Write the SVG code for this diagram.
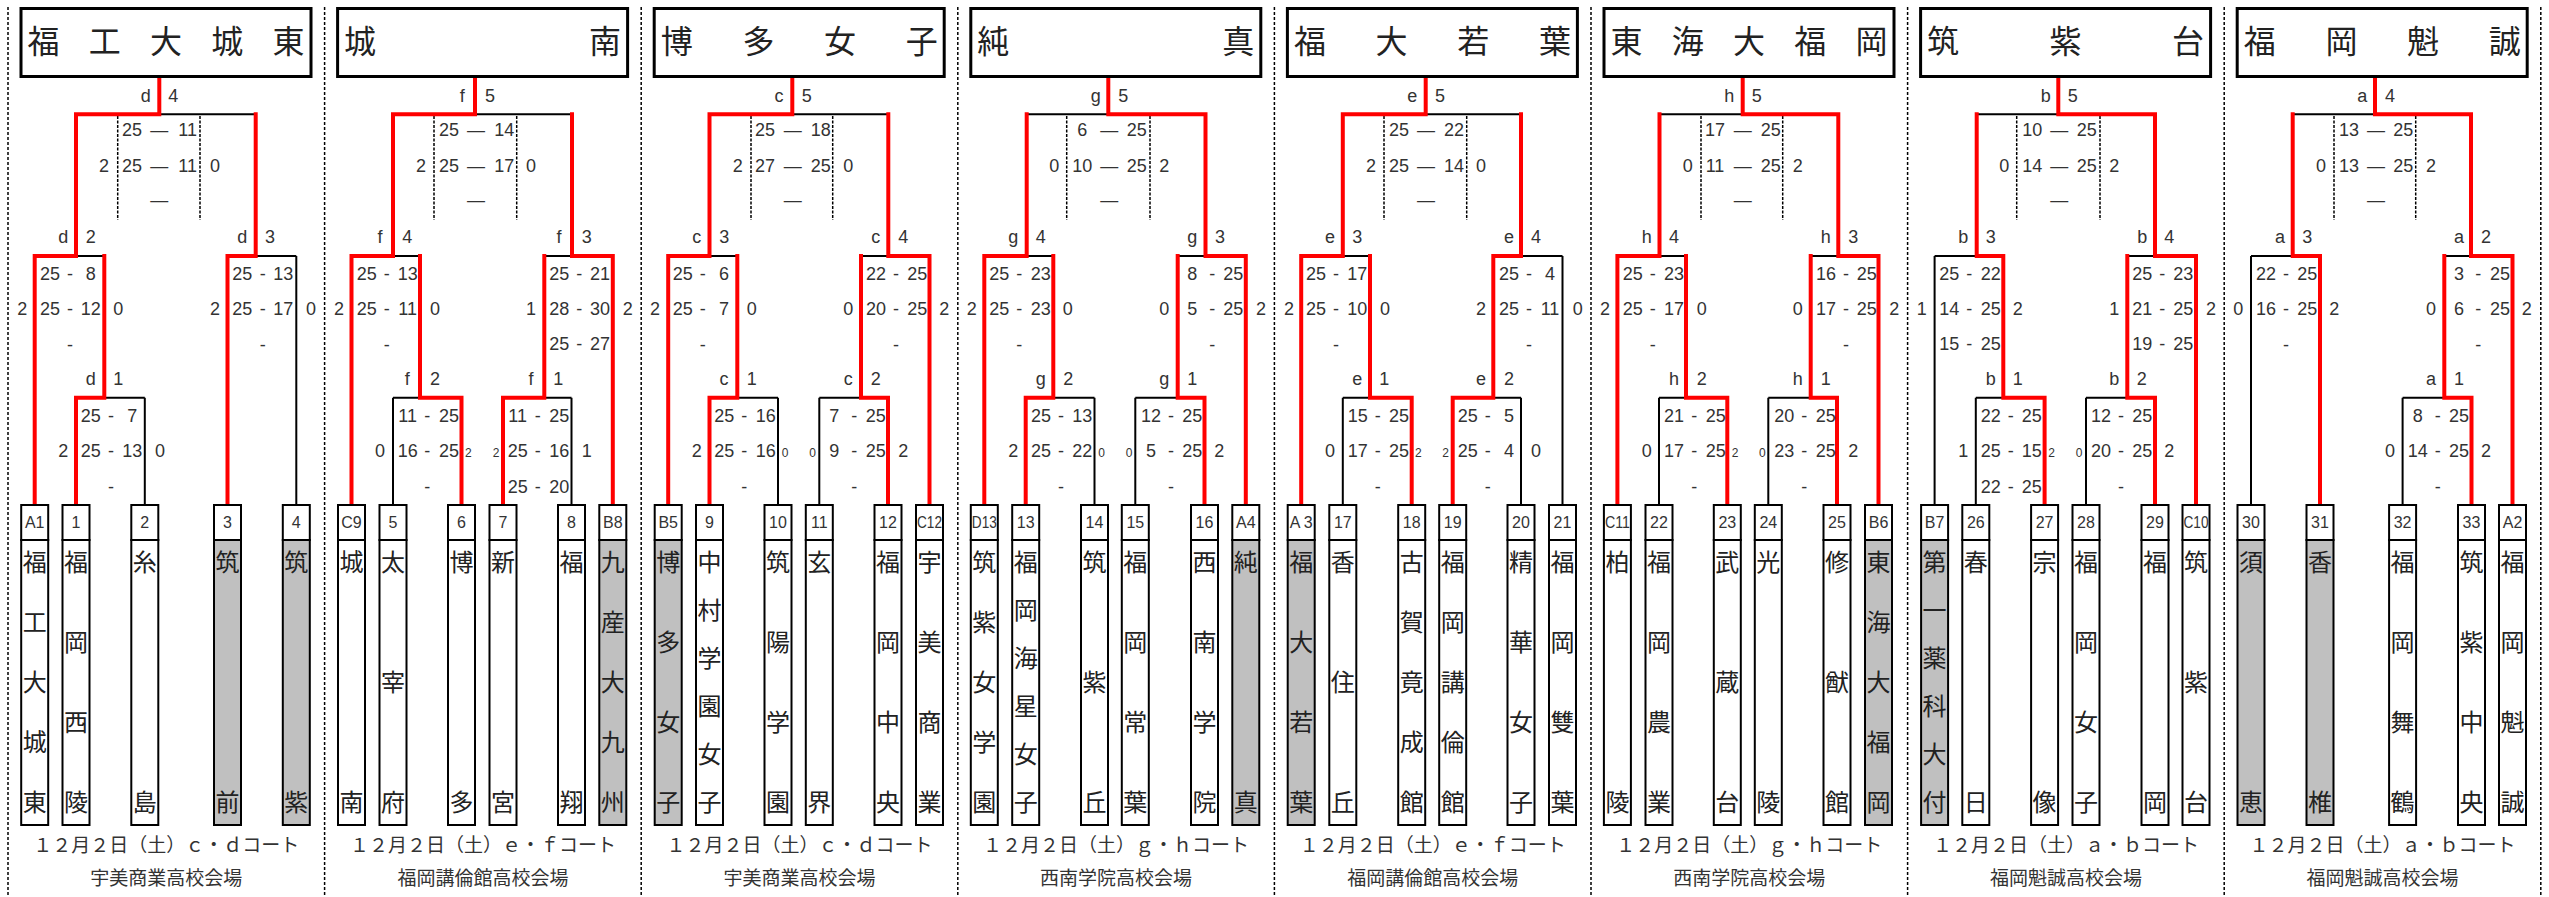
<svg xmlns="http://www.w3.org/2000/svg" width="2549" height="897" viewBox="0 0 2549 897">
<style>
.sep{stroke:#000;stroke-width:1.5;stroke-dasharray:3 2;fill:none}
.k{stroke:#000;stroke-width:2;fill:none}
.r{stroke:#f00;stroke-width:4;fill:none;stroke-linejoin:miter}
.dot{stroke:#000;stroke-width:1.5;stroke-dasharray:3 1.5;fill:none}
.tb{fill:#fff;stroke:#000;stroke-width:3}
.ti{font-family:"Noto Sans CJK JP",sans-serif;font-size:32px;fill:#222;text-anchor:middle}
.bx{fill:#fff;stroke:#000;stroke-width:2}
.gr{fill:#c0c0c0}
.no{font-family:"Liberation Sans Narrow","Liberation Sans",sans-serif;font-size:16px;fill:#333;text-anchor:middle}
.nm{font-family:"Noto Sans CJK JP",sans-serif;font-size:24px;fill:#222;text-anchor:middle}
.s{font-family:"Liberation Sans Narrow","Liberation Sans",sans-serif;font-size:18px;fill:#333;text-anchor:middle}
.sm{font-size:12px}
.dt{font-family:"Noto Sans CJK JP",sans-serif;font-size:19px;fill:#333;text-anchor:middle}
</style>
<rect width="2549" height="897" fill="#fff"/>
<g id="separators">
<path class="sep" d="M8 7V897M324.6 7V897M641.2 7V897M957.8 7V897M1274.4 7V897M1591 7V897M1907.6 7V897M2224.2 7V897M2540.8 7V897"/>
</g>
<g id="connectors">
<path class="k" d="M76 114.3H255.7M34.7 256H104.3M227.5 256H296.3M76 397.7H144.8M144.8 397.7V505M296.3 256V505"/>
<path class="k" d="M393 114.3H572M351.5 256H420M544.3 256H612.8M393 397.7H461.5M503 397.7H571.5M393 397.7V505M571.5 397.7V505"/>
<path class="k" d="M709.5 114.3H888.3M668.2 256H737.3M861 256H929.5M709.5 397.7H778M819.3 397.7H888M778 397.7V505M819.3 397.7V505"/>
<path class="k" d="M1026.7 114.3H1205.7M984.3 256H1053.3M1177.7 256H1245.8M1025.7 397.7H1094.5M1135.3 397.7H1204.5M1094.5 397.7V505M1135.3 397.7V505"/>
<path class="k" d="M1342.8 114.3H1521M1301.2 256H1370M1493.3 256H1562.5M1342.8 397.7H1411.7M1452.7 397.7H1521M1342.8 397.7V505M1521 397.7V505M1562.5 256V505"/>
<path class="k" d="M1659.5 114.3H1838.3M1617.4 256H1686M1810.7 256H1878.5M1659 397.7H1727.3M1768.3 397.7H1837M1659 397.7V505M1768.3 397.7V505"/>
<path class="k" d="M1976.7 114.3H2155M1934.6 256H2003.3M2127.3 256H2196M1975.8 397.7H2044.6M2086 397.7H2155M1934.6 256V505M1975.8 397.7V505M2086 397.7V505"/>
<path class="k" d="M2292.7 114.3H2471M2251 256H2320M2444.3 256H2512.5M2402.6 397.7H2471.5M2251 256V505M2402.6 397.7V505"/>
<path class="dot" d="M117.7 116V220M200 116V220M434 116V220M516.7 116V220M751 116V220M832.7 116V220M1066.7 116V220M1150 116V220M1384 116V220M1466.7 116V220M1701 116V220M1782.7 116V220M2016.7 116V220M2100 116V220M2334 116V220M2415.7 116V220"/>
<path class="r" d="M159.3 78V114.3H76V256H34.7V505M76 505V397.7H104.3V254M227.5 505V256H255.7V112.3"/>
<path class="r" d="M475 78V114.3H393V256H351.5V505M461.5 505V397.7H420V254M503 505V397.7H544.3V254M612.8 505V256H572V112.3"/>
<path class="r" d="M792.3 78V114.3H709.5V256H668.2V505M709.5 505V397.7H737.3V254M888 505V397.7H861V254M929.5 505V256H888.3V112.3"/>
<path class="r" d="M984.3 505V256H1026.7V112.3M1108.3 78V114.3H1205.5V256H1245.8V505M1025.7 505V397.7H1053.3V254M1204.5 505V397.7H1177.7V254"/>
<path class="r" d="M1425.7 78V114.3H1342.8V256H1301.2V505M1411.7 505V397.7H1370V254M1452.7 505V397.7H1493.3V256H1521V112.3"/>
<path class="r" d="M1617.4 505V256H1659.5V112.3M1742.7 78V114.3H1838.3V256H1878.5V505M1727.3 505V397.7H1686V254M1837 505V397.7H1810.7V254"/>
<path class="r" d="M2044.6 505V397.7H2003.3V256H1976.7V112.3M2058.3 78V114.3H2155V256H2196V505M2155 505V397.7H2127.3V254"/>
<path class="r" d="M2320 505V256H2292.7V112.3M2375 78V114.3H2471V256H2512.5V505M2471.5 505V397.7H2444.3V254"/>
</g>
<g id="titles">
<g id="title-1"><rect class="tb" x="21" y="8.5" width="290" height="68"/><text class="ti" x="43.5 104.75 166 227.25 288.5" y="53">福工大城東</text></g>
<g id="title-2"><rect class="tb" x="337.6" y="8.5" width="290" height="68"/><text class="ti" x="360.1 605.1" y="53">城南</text></g>
<g id="title-3"><rect class="tb" x="654.2" y="8.5" width="290" height="68"/><text class="ti" x="676.7 758.4 840 921.7" y="53">博多女子</text></g>
<g id="title-4"><rect class="tb" x="970.8" y="8.5" width="290" height="68"/><text class="ti" x="993.3 1238.3" y="53">純真</text></g>
<g id="title-5"><rect class="tb" x="1287.4" y="8.5" width="290" height="68"/><text class="ti" x="1309.9 1391.6 1473.2 1554.9" y="53">福大若葉</text></g>
<g id="title-6"><rect class="tb" x="1604" y="8.5" width="290" height="68"/><text class="ti" x="1626.5 1687.75 1749 1810.25 1871.5" y="53">東海大福岡</text></g>
<g id="title-7"><rect class="tb" x="1920.6" y="8.5" width="290" height="68"/><text class="ti" x="1943.1 2065.6 2188.1" y="53">筑紫台</text></g>
<g id="title-8"><rect class="tb" x="2237.2" y="8.5" width="290" height="68"/><text class="ti" x="2259.7 2341.4 2423 2504.7" y="53">福岡魁誠</text></g>
</g>
<g id="matches">
<g id="m-d4"><text class="s" y="101.7"><tspan x="145.7">d</tspan><tspan x="173.3">4</tspan></text><text class="s" y="136"><tspan x="132">25</tspan><tspan x="159.3">—</tspan><tspan x="187.7">11</tspan></text><text class="s" y="172"><tspan x="104">2</tspan><tspan x="132">25</tspan><tspan x="159.3">—</tspan><tspan x="187.7">11</tspan><tspan x="215">0</tspan></text><text class="s" x="159.3" y="205.5">—</text></g>
<g id="m-d2"><text class="s" y="243.3"><tspan x="63.3">d</tspan><tspan x="90.7">2</tspan></text><text class="s" y="280"><tspan x="50">25</tspan><tspan x="70">-</tspan><tspan x="90.7">8</tspan></text><text class="s" y="315"><tspan x="22.3">2</tspan><tspan x="50">25</tspan><tspan x="70">-</tspan><tspan x="90.7">12</tspan><tspan x="118.3">0</tspan></text><text class="s" x="70" y="350.5">-</text></g>
<g id="m-d3"><text class="s" y="243.3"><tspan x="242.3">d</tspan><tspan x="270">3</tspan></text><text class="s" y="280"><tspan x="242.3">25</tspan><tspan x="262.7">-</tspan><tspan x="283.3">13</tspan></text><text class="s" y="315"><tspan x="215">2</tspan><tspan x="242.3">25</tspan><tspan x="262.7">-</tspan><tspan x="283.3">17</tspan><tspan x="311">0</tspan></text><text class="s" x="262.7" y="350.5">-</text></g>
<g id="m-d1"><text class="s" y="385"><tspan x="90.7">d</tspan><tspan x="118.3">1</tspan></text><text class="s" y="421.7"><tspan x="90.7">25</tspan><tspan x="111">-</tspan><tspan x="132.3">7</tspan></text><text class="s" y="456.7"><tspan x="63.3">2</tspan><tspan x="90.7">25</tspan><tspan x="111">-</tspan><tspan x="132.3">13</tspan><tspan x="160">0</tspan></text><text class="s" x="111" y="492.5">-</text></g>

<g id="m-f5"><text class="s" y="101.7"><tspan x="462.3">f</tspan><tspan x="490">5</tspan></text><text class="s" y="136"><tspan x="449">25</tspan><tspan x="476">—</tspan><tspan x="504.3">14</tspan></text><text class="s" y="172"><tspan x="421">2</tspan><tspan x="449">25</tspan><tspan x="476">—</tspan><tspan x="504.3">17</tspan><tspan x="531">0</tspan></text><text class="s" x="476" y="205.5">—</text></g>
<g id="m-f4"><text class="s" y="243.3"><tspan x="380">f</tspan><tspan x="407.3">4</tspan></text><text class="s" y="280"><tspan x="366.7">25</tspan><tspan x="386.7">-</tspan><tspan x="407.7">13</tspan></text><text class="s" y="315"><tspan x="339">2</tspan><tspan x="366.7">25</tspan><tspan x="386.7">-</tspan><tspan x="407.7">11</tspan><tspan x="435">0</tspan></text><text class="s" x="386.7" y="350.5">-</text></g>
<g id="m-f3"><text class="s" y="243.3"><tspan x="559">f</tspan><tspan x="586.7">3</tspan></text><text class="s" y="280"><tspan x="559.3">25</tspan><tspan x="579.3">-</tspan><tspan x="600">21</tspan></text><text class="s" y="315"><tspan x="531">1</tspan><tspan x="559.3">28</tspan><tspan x="579.3">-</tspan><tspan x="600">30</tspan><tspan x="627.7">2</tspan></text><text class="s" y="350"><tspan x="559.3">25</tspan><tspan x="579.3">-</tspan><tspan x="600">27</tspan></text></g>
<g id="m-f2"><text class="s" y="385"><tspan x="407.3">f</tspan><tspan x="435">2</tspan></text><text class="s" y="421.7"><tspan x="407.7">11</tspan><tspan x="427.3">-</tspan><tspan x="449">25</tspan></text><text class="s" y="456.7"><tspan x="380">0</tspan><tspan x="407.7">16</tspan><tspan x="427.3">-</tspan><tspan x="449">25</tspan><tspan class="sm" x="468.3">2</tspan></text><text class="s" x="427.3" y="492.5">-</text></g>
<g id="m-f1"><text class="s" y="385"><tspan x="531">f</tspan><tspan x="558.3">1</tspan></text><text class="s" y="421.7"><tspan x="517.7">11</tspan><tspan x="537.7">-</tspan><tspan x="559.3">25</tspan></text><text class="s" y="456.7"><tspan class="sm" x="496">2</tspan><tspan x="517.7">25</tspan><tspan x="537.7">-</tspan><tspan x="559.3">16</tspan><tspan x="586.7">1</tspan></text><text class="s" y="492.5"><tspan x="517.7">25</tspan><tspan x="537.7">-</tspan><tspan x="559.3">20</tspan></text></g>

<g id="m-c5"><text class="s" y="101.7"><tspan x="779">c</tspan><tspan x="806.7">5</tspan></text><text class="s" y="136"><tspan x="765">25</tspan><tspan x="792.7">—</tspan><tspan x="820.7">18</tspan></text><text class="s" y="172"><tspan x="737.7">2</tspan><tspan x="765">27</tspan><tspan x="792.7">—</tspan><tspan x="820.7">25</tspan><tspan x="848.3">0</tspan></text><text class="s" x="792.7" y="205.5">—</text></g>
<g id="m-c3"><text class="s" y="243.3"><tspan x="696.7">c</tspan><tspan x="724.3">3</tspan></text><text class="s" y="280"><tspan x="682.7">25</tspan><tspan x="702.7">-</tspan><tspan x="724">6</tspan></text><text class="s" y="315"><tspan x="655">2</tspan><tspan x="682.7">25</tspan><tspan x="702.7">-</tspan><tspan x="724">7</tspan><tspan x="751.7">0</tspan></text><text class="s" x="702.7" y="350.5">-</text></g>
<g id="m-c4"><text class="s" y="243.3"><tspan x="875.7">c</tspan><tspan x="903.3">4</tspan></text><text class="s" y="280"><tspan x="876">22</tspan><tspan x="896">-</tspan><tspan x="917.3">25</tspan></text><text class="s" y="315"><tspan x="848.3">0</tspan><tspan x="876">20</tspan><tspan x="896">-</tspan><tspan x="917.3">25</tspan><tspan x="944.3">2</tspan></text><text class="s" x="896" y="350.5">-</text></g>
<g id="m-c1"><text class="s" y="385"><tspan x="724">c</tspan><tspan x="751.7">1</tspan></text><text class="s" y="421.7"><tspan x="724.3">25</tspan><tspan x="744.3">-</tspan><tspan x="765.7">16</tspan></text><text class="s" y="456.7"><tspan x="696.7">2</tspan><tspan x="724.3">25</tspan><tspan x="744.3">-</tspan><tspan x="765.7">16</tspan><tspan class="sm" x="785">0</tspan></text><text class="s" x="744.3" y="492.5">-</text></g>
<g id="m-c2"><text class="s" y="385"><tspan x="848.3">c</tspan><tspan x="875.7">2</tspan></text><text class="s" y="421.7"><tspan x="834.3">7</tspan><tspan x="854.3">-</tspan><tspan x="875.7">25</tspan></text><text class="s" y="456.7"><tspan class="sm" x="812.7">0</tspan><tspan x="834.3">9</tspan><tspan x="854.3">-</tspan><tspan x="875.7">25</tspan><tspan x="903.3">2</tspan></text><text class="s" x="854.3" y="492.5">-</text></g>

<g id="m-g5"><text class="s" y="101.7"><tspan x="1095.7">g</tspan><tspan x="1123.3">5</tspan></text><text class="s" y="136"><tspan x="1082.3">6</tspan><tspan x="1109.3">—</tspan><tspan x="1136.7">25</tspan></text><text class="s" y="172"><tspan x="1054.3">0</tspan><tspan x="1082.3">10</tspan><tspan x="1109.3">—</tspan><tspan x="1136.7">25</tspan><tspan x="1164.3">2</tspan></text><text class="s" x="1109.3" y="205.5">—</text></g>
<g id="m-g4"><text class="s" y="243.3"><tspan x="1013.3">g</tspan><tspan x="1040.7">4</tspan></text><text class="s" y="280"><tspan x="999.3">25</tspan><tspan x="1019.3">-</tspan><tspan x="1040.7">23</tspan></text><text class="s" y="315"><tspan x="971.7">2</tspan><tspan x="999.3">25</tspan><tspan x="1019.3">-</tspan><tspan x="1040.7">23</tspan><tspan x="1067.7">0</tspan></text><text class="s" x="1019.3" y="350.5">-</text></g>
<g id="m-g3"><text class="s" y="243.3"><tspan x="1192.3">g</tspan><tspan x="1220">3</tspan></text><text class="s" y="280"><tspan x="1192.3">8</tspan><tspan x="1212.3">-</tspan><tspan x="1233.3">25</tspan></text><text class="s" y="315"><tspan x="1164.3">0</tspan><tspan x="1192.3">5</tspan><tspan x="1212.3">-</tspan><tspan x="1233.3">25</tspan><tspan x="1261">2</tspan></text><text class="s" x="1212.3" y="350.5">-</text></g>
<g id="m-g2"><text class="s" y="385"><tspan x="1040.7">g</tspan><tspan x="1068.3">2</tspan></text><text class="s" y="421.7"><tspan x="1041">25</tspan><tspan x="1061">-</tspan><tspan x="1082.3">13</tspan></text><text class="s" y="456.7"><tspan x="1013.3">2</tspan><tspan x="1041">25</tspan><tspan x="1061">-</tspan><tspan x="1082.3">22</tspan><tspan class="sm" x="1101.7">0</tspan></text><text class="s" x="1061" y="492.5">-</text></g>
<g id="m-g1"><text class="s" y="385"><tspan x="1164.3">g</tspan><tspan x="1192.3">1</tspan></text><text class="s" y="421.7"><tspan x="1151">12</tspan><tspan x="1171">-</tspan><tspan x="1192.3">25</tspan></text><text class="s" y="456.7"><tspan class="sm" x="1129">0</tspan><tspan x="1151">5</tspan><tspan x="1171">-</tspan><tspan x="1192.3">25</tspan><tspan x="1219.3">2</tspan></text><text class="s" x="1171" y="492.5">-</text></g>

<g id="m-e5"><text class="s" y="101.7"><tspan x="1412.3">e</tspan><tspan x="1440">5</tspan></text><text class="s" y="136"><tspan x="1399">25</tspan><tspan x="1426">—</tspan><tspan x="1454">22</tspan></text><text class="s" y="172"><tspan x="1371">2</tspan><tspan x="1399">25</tspan><tspan x="1426">—</tspan><tspan x="1454">14</tspan><tspan x="1481">0</tspan></text><text class="s" x="1426" y="205.5">—</text></g>
<g id="m-e3"><text class="s" y="243.3"><tspan x="1330">e</tspan><tspan x="1357.3">3</tspan></text><text class="s" y="280"><tspan x="1316">25</tspan><tspan x="1336">-</tspan><tspan x="1357.3">17</tspan></text><text class="s" y="315"><tspan x="1289">2</tspan><tspan x="1316">25</tspan><tspan x="1336">-</tspan><tspan x="1357.3">10</tspan><tspan x="1385">0</tspan></text><text class="s" x="1336" y="350.5">-</text></g>
<g id="m-e4"><text class="s" y="243.3"><tspan x="1509">e</tspan><tspan x="1536">4</tspan></text><text class="s" y="280"><tspan x="1509">25</tspan><tspan x="1529">-</tspan><tspan x="1550">4</tspan></text><text class="s" y="315"><tspan x="1481">2</tspan><tspan x="1509">25</tspan><tspan x="1529">-</tspan><tspan x="1550">11</tspan><tspan x="1577.7">0</tspan></text><text class="s" x="1529" y="350.5">-</text></g>
<g id="m-e1"><text class="s" y="385"><tspan x="1357.3">e</tspan><tspan x="1384.3">1</tspan></text><text class="s" y="421.7"><tspan x="1357.7">15</tspan><tspan x="1377.7">-</tspan><tspan x="1399">25</tspan></text><text class="s" y="456.7"><tspan x="1330">0</tspan><tspan x="1357.7">17</tspan><tspan x="1377.7">-</tspan><tspan x="1399">25</tspan><tspan class="sm" x="1418.3">2</tspan></text><text class="s" x="1377.7" y="492.5">-</text></g>
<g id="m-e2"><text class="s" y="385"><tspan x="1481">e</tspan><tspan x="1509">2</tspan></text><text class="s" y="421.7"><tspan x="1467.7">25</tspan><tspan x="1487.7">-</tspan><tspan x="1509">5</tspan></text><text class="s" y="456.7"><tspan class="sm" x="1445.7">2</tspan><tspan x="1467.7">25</tspan><tspan x="1487.7">-</tspan><tspan x="1509">4</tspan><tspan x="1536">0</tspan></text><text class="s" x="1487.7" y="492.5">-</text></g>

<g id="m-h5"><text class="s" y="101.7"><tspan x="1729.3">h</tspan><tspan x="1756.7">5</tspan></text><text class="s" y="136"><tspan x="1715">17</tspan><tspan x="1742.7">—</tspan><tspan x="1770.7">25</tspan></text><text class="s" y="172"><tspan x="1687.7">0</tspan><tspan x="1715">11</tspan><tspan x="1742.7">—</tspan><tspan x="1770.7">25</tspan><tspan x="1797.7">2</tspan></text><text class="s" x="1742.7" y="205.5">—</text></g>
<g id="m-h4"><text class="s" y="243.3"><tspan x="1646.7">h</tspan><tspan x="1674">4</tspan></text><text class="s" y="280"><tspan x="1632.7">25</tspan><tspan x="1652.7">-</tspan><tspan x="1674">23</tspan></text><text class="s" y="315"><tspan x="1605">2</tspan><tspan x="1632.7">25</tspan><tspan x="1652.7">-</tspan><tspan x="1674">17</tspan><tspan x="1701.7">0</tspan></text><text class="s" x="1652.7" y="350.5">-</text></g>
<g id="m-h3"><text class="s" y="243.3"><tspan x="1825.7">h</tspan><tspan x="1853.3">3</tspan></text><text class="s" y="280"><tspan x="1826">16</tspan><tspan x="1846">-</tspan><tspan x="1866.7">25</tspan></text><text class="s" y="315"><tspan x="1797.7">0</tspan><tspan x="1826">17</tspan><tspan x="1846">-</tspan><tspan x="1866.7">25</tspan><tspan x="1894.3">2</tspan></text><text class="s" x="1846" y="350.5">-</text></g>
<g id="m-h2"><text class="s" y="385"><tspan x="1674">h</tspan><tspan x="1701.7">2</tspan></text><text class="s" y="421.7"><tspan x="1674">21</tspan><tspan x="1694.3">-</tspan><tspan x="1715.7">25</tspan></text><text class="s" y="456.7"><tspan x="1646.7">0</tspan><tspan x="1674">17</tspan><tspan x="1694.3">-</tspan><tspan x="1715.7">25</tspan><tspan class="sm" x="1735">2</tspan></text><text class="s" x="1694.3" y="492.5">-</text></g>
<g id="m-h1"><text class="s" y="385"><tspan x="1797.7">h</tspan><tspan x="1825.7">1</tspan></text><text class="s" y="421.7"><tspan x="1784.3">20</tspan><tspan x="1804.3">-</tspan><tspan x="1825.7">25</tspan></text><text class="s" y="456.7"><tspan class="sm" x="1762.3">0</tspan><tspan x="1784.3">23</tspan><tspan x="1804.3">-</tspan><tspan x="1825.7">25</tspan><tspan x="1853.3">2</tspan></text><text class="s" x="1804.3" y="492.5">-</text></g>

<g id="m-b5"><text class="s" y="101.7"><tspan x="2045.7">b</tspan><tspan x="2072.7">5</tspan></text><text class="s" y="136"><tspan x="2032.3">10</tspan><tspan x="2059.3">—</tspan><tspan x="2086.7">25</tspan></text><text class="s" y="172"><tspan x="2004.3">0</tspan><tspan x="2032.3">14</tspan><tspan x="2059.3">—</tspan><tspan x="2086.7">25</tspan><tspan x="2114.3">2</tspan></text><text class="s" x="2059.3" y="205.5">—</text></g>
<g id="m-b3"><text class="s" y="243.3"><tspan x="1963.3">b</tspan><tspan x="1990.7">3</tspan></text><text class="s" y="280"><tspan x="1949.3">25</tspan><tspan x="1969.3">-</tspan><tspan x="1990.7">22</tspan></text><text class="s" y="315"><tspan x="1921.7">1</tspan><tspan x="1949.3">14</tspan><tspan x="1969.3">-</tspan><tspan x="1990.7">25</tspan><tspan x="2017.7">2</tspan></text><text class="s" y="350"><tspan x="1949.3">15</tspan><tspan x="1969.3">-</tspan><tspan x="1990.7">25</tspan></text></g>
<g id="m-b4"><text class="s" y="243.3"><tspan x="2142.3">b</tspan><tspan x="2169.3">4</tspan></text><text class="s" y="280"><tspan x="2142.3">25</tspan><tspan x="2162.3">-</tspan><tspan x="2183.3">23</tspan></text><text class="s" y="315"><tspan x="2114.3">1</tspan><tspan x="2142.3">21</tspan><tspan x="2162.3">-</tspan><tspan x="2183.3">25</tspan><tspan x="2211">2</tspan></text><text class="s" y="350"><tspan x="2142.3">19</tspan><tspan x="2162.3">-</tspan><tspan x="2183.3">25</tspan></text></g>
<g id="m-b1"><text class="s" y="385"><tspan x="1990.7">b</tspan><tspan x="2017.7">1</tspan></text><text class="s" y="421.7"><tspan x="1990.7">22</tspan><tspan x="2010.7">-</tspan><tspan x="2031.7">25</tspan></text><text class="s" y="456.7"><tspan x="1963.3">1</tspan><tspan x="1990.7">25</tspan><tspan x="2010.7">-</tspan><tspan x="2031.7">15</tspan><tspan class="sm" x="2051.7">2</tspan></text><text class="s" y="492.5"><tspan x="1990.7">22</tspan><tspan x="2010.7">-</tspan><tspan x="2031.7">25</tspan></text></g>
<g id="m-b2"><text class="s" y="385"><tspan x="2114.3">b</tspan><tspan x="2141.7">2</tspan></text><text class="s" y="421.7"><tspan x="2101">12</tspan><tspan x="2121">-</tspan><tspan x="2142.3">25</tspan></text><text class="s" y="456.7"><tspan class="sm" x="2079">0</tspan><tspan x="2101">20</tspan><tspan x="2121">-</tspan><tspan x="2142.3">25</tspan><tspan x="2169.3">2</tspan></text><text class="s" x="2121" y="492.5">-</text></g>

<g id="m-a4"><text class="s" y="101.7"><tspan x="2362.3">a</tspan><tspan x="2390">4</tspan></text><text class="s" y="136"><tspan x="2349">13</tspan><tspan x="2376">—</tspan><tspan x="2403.3">25</tspan></text><text class="s" y="172"><tspan x="2321">0</tspan><tspan x="2349">13</tspan><tspan x="2376">—</tspan><tspan x="2403.3">25</tspan><tspan x="2431">2</tspan></text><text class="s" x="2376" y="205.5">—</text></g>
<g id="m-a3"><text class="s" y="243.3"><tspan x="2280">a</tspan><tspan x="2307.3">3</tspan></text><text class="s" y="280"><tspan x="2266">22</tspan><tspan x="2286">-</tspan><tspan x="2307.3">25</tspan></text><text class="s" y="315"><tspan x="2238.3">0</tspan><tspan x="2266">16</tspan><tspan x="2286">-</tspan><tspan x="2307.3">25</tspan><tspan x="2334.3">2</tspan></text><text class="s" x="2286" y="350.5">-</text></g>
<g id="m-a2"><text class="s" y="243.3"><tspan x="2459">a</tspan><tspan x="2486">2</tspan></text><text class="s" y="280"><tspan x="2459">3</tspan><tspan x="2478.3">-</tspan><tspan x="2500">25</tspan></text><text class="s" y="315"><tspan x="2431">0</tspan><tspan x="2459">6</tspan><tspan x="2478.3">-</tspan><tspan x="2500">25</tspan><tspan x="2526.7">2</tspan></text><text class="s" x="2478.3" y="350.5">-</text></g>
<g id="m-a1"><text class="s" y="385"><tspan x="2431">a</tspan><tspan x="2459">1</tspan></text><text class="s" y="421.7"><tspan x="2417.7">8</tspan><tspan x="2437.7">-</tspan><tspan x="2459">25</tspan></text><text class="s" y="456.7"><tspan x="2390">0</tspan><tspan x="2417.7">14</tspan><tspan x="2437.7">-</tspan><tspan x="2459">25</tspan><tspan x="2486">2</tspan></text><text class="s" x="2437.7" y="492.5">-</text></g>
</g>
<g id="teams">
<g id="t-A1"><rect class="bx" x="21.2" y="505" width="27" height="35"/><rect class="bx" x="21.2" y="540" width="27" height="285"/><text class="no" x="34.7" y="528">A1</text><text class="nm" x="34.7 34.7 34.7 34.7 34.7" y="570.7 630.7 690.7 750.7 810.7">福工大城東</text></g>
<g id="t-1"><rect class="bx" x="62.5" y="505" width="27" height="35"/><rect class="bx" x="62.5" y="540" width="27" height="285"/><text class="no" x="76" y="528">1</text><text class="nm" x="76 76 76 76" y="570.7 650.7 730.7 810.7">福岡西陵</text></g>
<g id="t-2"><rect class="bx" x="131.3" y="505" width="27" height="35"/><rect class="bx" x="131.3" y="540" width="27" height="285"/><text class="no" x="144.8" y="528">2</text><text class="nm" x="144.8 144.8" y="570.7 810.7">糸島</text></g>
<g id="t-3"><rect class="bx" x="214" y="505" width="27" height="35"/><rect class="bx gr" x="214" y="540" width="27" height="285"/><text class="no" x="227.5" y="528">3</text><text class="nm" x="227.5 227.5" y="570.7 810.7">筑前</text></g>
<g id="t-4"><rect class="bx" x="282.8" y="505" width="27" height="35"/><rect class="bx gr" x="282.8" y="540" width="27" height="285"/><text class="no" x="296.3" y="528">4</text><text class="nm" x="296.3 296.3" y="570.7 810.7">筑紫</text></g>

<g id="t-C9"><rect class="bx" x="338" y="505" width="27" height="35"/><rect class="bx" x="338" y="540" width="27" height="285"/><text class="no" x="351.5" y="528">C9</text><text class="nm" x="351.5 351.5" y="570.7 810.7">城南</text></g>
<g id="t-5"><rect class="bx" x="379.5" y="505" width="27" height="35"/><rect class="bx" x="379.5" y="540" width="27" height="285"/><text class="no" x="393" y="528">5</text><text class="nm" x="393 393 393" y="570.7 690.7 810.7">太宰府</text></g>
<g id="t-6"><rect class="bx" x="448" y="505" width="27" height="35"/><rect class="bx" x="448" y="540" width="27" height="285"/><text class="no" x="461.5" y="528">6</text><text class="nm" x="461.5 461.5" y="570.7 810.7">博多</text></g>
<g id="t-7"><rect class="bx" x="489.5" y="505" width="27" height="35"/><rect class="bx" x="489.5" y="540" width="27" height="285"/><text class="no" x="503" y="528">7</text><text class="nm" x="503 503" y="570.7 810.7">新宮</text></g>
<g id="t-8"><rect class="bx" x="558" y="505" width="27" height="35"/><rect class="bx" x="558" y="540" width="27" height="285"/><text class="no" x="571.5" y="528">8</text><text class="nm" x="571.5 571.5" y="570.7 810.7">福翔</text></g>
<g id="t-B8"><rect class="bx" x="599.3" y="505" width="27" height="35"/><rect class="bx gr" x="599.3" y="540" width="27" height="285"/><text class="no" x="612.8" y="528">B8</text><text class="nm" x="612.8 612.8 612.8 612.8 612.8" y="570.7 630.7 690.7 750.7 810.7">九産大九州</text></g>

<g id="t-B5"><rect class="bx" x="654.7" y="505" width="27" height="35"/><rect class="bx gr" x="654.7" y="540" width="27" height="285"/><text class="no" x="668.2" y="528">B5</text><text class="nm" x="668.2 668.2 668.2 668.2" y="570.7 650.7 730.7 810.7">博多女子</text></g>
<g id="t-9"><rect class="bx" x="696" y="505" width="27" height="35"/><rect class="bx" x="696" y="540" width="27" height="285"/><text class="no" x="709.5" y="528">9</text><text class="nm" x="709.5 709.5 709.5 709.5 709.5 709.5" y="570.7 618.7 666.7 714.7 762.7 810.7">中村学園女子</text></g>
<g id="t-10"><rect class="bx" x="764.5" y="505" width="27" height="35"/><rect class="bx" x="764.5" y="540" width="27" height="285"/><text class="no" x="778" y="528">10</text><text class="nm" x="778 778 778 778" y="570.7 650.7 730.7 810.7">筑陽学園</text></g>
<g id="t-11"><rect class="bx" x="805.8" y="505" width="27" height="35"/><rect class="bx" x="805.8" y="540" width="27" height="285"/><text class="no" x="819.3" y="528">11</text><text class="nm" x="819.3 819.3" y="570.7 810.7">玄界</text></g>
<g id="t-12"><rect class="bx" x="874.5" y="505" width="27" height="35"/><rect class="bx" x="874.5" y="540" width="27" height="285"/><text class="no" x="888" y="528">12</text><text class="nm" x="888 888 888 888" y="570.7 650.7 730.7 810.7">福岡中央</text></g>
<g id="t-C12"><rect class="bx" x="916" y="505" width="27" height="35"/><rect class="bx" x="916" y="540" width="27" height="285"/><text class="no" x="929.5" y="528" textLength="25" lengthAdjust="spacingAndGlyphs">C12</text><text class="nm" x="929.5 929.5 929.5 929.5" y="570.7 650.7 730.7 810.7">宇美商業</text></g>

<g id="t-D13"><rect class="bx" x="970.8" y="505" width="27" height="35"/><rect class="bx" x="970.8" y="540" width="27" height="285"/><text class="no" x="984.3" y="528" textLength="25" lengthAdjust="spacingAndGlyphs">D13</text><text class="nm" x="984.3 984.3 984.3 984.3 984.3" y="570.7 630.7 690.7 750.7 810.7">筑紫女学園</text></g>
<g id="t-13"><rect class="bx" x="1012.2" y="505" width="27" height="35"/><rect class="bx" x="1012.2" y="540" width="27" height="285"/><text class="no" x="1025.7" y="528">13</text><text class="nm" x="1025.7 1025.7 1025.7 1025.7 1025.7 1025.7" y="570.7 618.7 666.7 714.7 762.7 810.7">福岡海星女子</text></g>
<g id="t-14"><rect class="bx" x="1081" y="505" width="27" height="35"/><rect class="bx" x="1081" y="540" width="27" height="285"/><text class="no" x="1094.5" y="528">14</text><text class="nm" x="1094.5 1094.5 1094.5" y="570.7 690.7 810.7">筑紫丘</text></g>
<g id="t-15"><rect class="bx" x="1121.8" y="505" width="27" height="35"/><rect class="bx" x="1121.8" y="540" width="27" height="285"/><text class="no" x="1135.3" y="528">15</text><text class="nm" x="1135.3 1135.3 1135.3 1135.3" y="570.7 650.7 730.7 810.7">福岡常葉</text></g>
<g id="t-16"><rect class="bx" x="1191" y="505" width="27" height="35"/><rect class="bx" x="1191" y="540" width="27" height="285"/><text class="no" x="1204.5" y="528">16</text><text class="nm" x="1204.5 1204.5 1204.5 1204.5" y="570.7 650.7 730.7 810.7">西南学院</text></g>
<g id="t-A4"><rect class="bx" x="1232.3" y="505" width="27" height="35"/><rect class="bx gr" x="1232.3" y="540" width="27" height="285"/><text class="no" x="1245.8" y="528">A4</text><text class="nm" x="1245.8 1245.8" y="570.7 810.7">純真</text></g>

<g id="t-A3"><rect class="bx" x="1287.7" y="505" width="27" height="35"/><rect class="bx gr" x="1287.7" y="540" width="27" height="285"/><text class="no" x="1301.2" y="528">A 3</text><text class="nm" x="1301.2 1301.2 1301.2 1301.2" y="570.7 650.7 730.7 810.7">福大若葉</text></g>
<g id="t-17"><rect class="bx" x="1329.3" y="505" width="27" height="35"/><rect class="bx" x="1329.3" y="540" width="27" height="285"/><text class="no" x="1342.8" y="528">17</text><text class="nm" x="1342.8 1342.8 1342.8" y="570.7 690.7 810.7">香住丘</text></g>
<g id="t-18"><rect class="bx" x="1398.2" y="505" width="27" height="35"/><rect class="bx" x="1398.2" y="540" width="27" height="285"/><text class="no" x="1411.7" y="528">18</text><text class="nm" x="1411.7 1411.7 1411.7 1411.7 1411.7" y="570.7 630.7 690.7 750.7 810.7">古賀竟成館</text></g>
<g id="t-19"><rect class="bx" x="1439.2" y="505" width="27" height="35"/><rect class="bx" x="1439.2" y="540" width="27" height="285"/><text class="no" x="1452.7" y="528">19</text><text class="nm" x="1452.7 1452.7 1452.7 1452.7 1452.7" y="570.7 630.7 690.7 750.7 810.7">福岡講倫館</text></g>
<g id="t-20"><rect class="bx" x="1507.5" y="505" width="27" height="35"/><rect class="bx" x="1507.5" y="540" width="27" height="285"/><text class="no" x="1521" y="528">20</text><text class="nm" x="1521 1521 1521 1521" y="570.7 650.7 730.7 810.7">精華女子</text></g>
<g id="t-21"><rect class="bx" x="1549" y="505" width="27" height="35"/><rect class="bx" x="1549" y="540" width="27" height="285"/><text class="no" x="1562.5" y="528">21</text><text class="nm" x="1562.5 1562.5 1562.5 1562.5" y="570.7 650.7 730.7 810.7">福岡雙葉</text></g>

<g id="t-C11"><rect class="bx" x="1603.9" y="505" width="27" height="35"/><rect class="bx" x="1603.9" y="540" width="27" height="285"/><text class="no" x="1617.4" y="528" textLength="25" lengthAdjust="spacingAndGlyphs">C11</text><text class="nm" x="1617.4 1617.4" y="570.7 810.7">柏陵</text></g>
<g id="t-22"><rect class="bx" x="1645.5" y="505" width="27" height="35"/><rect class="bx" x="1645.5" y="540" width="27" height="285"/><text class="no" x="1659" y="528">22</text><text class="nm" x="1659 1659 1659 1659" y="570.7 650.7 730.7 810.7">福岡農業</text></g>
<g id="t-23"><rect class="bx" x="1713.8" y="505" width="27" height="35"/><rect class="bx" x="1713.8" y="540" width="27" height="285"/><text class="no" x="1727.3" y="528">23</text><text class="nm" x="1727.3 1727.3 1727.3" y="570.7 690.7 810.7">武蔵台</text></g>
<g id="t-24"><rect class="bx" x="1754.8" y="505" width="27" height="35"/><rect class="bx" x="1754.8" y="540" width="27" height="285"/><text class="no" x="1768.3" y="528">24</text><text class="nm" x="1768.3 1768.3" y="570.7 810.7">光陵</text></g>
<g id="t-25"><rect class="bx" x="1823.5" y="505" width="27" height="35"/><rect class="bx" x="1823.5" y="540" width="27" height="285"/><text class="no" x="1837" y="528">25</text><text class="nm" x="1837 1837 1837" y="570.7 690.7 810.7">修猷館</text></g>
<g id="t-B6"><rect class="bx" x="1865" y="505" width="27" height="35"/><rect class="bx gr" x="1865" y="540" width="27" height="285"/><text class="no" x="1878.5" y="528">B6</text><text class="nm" x="1878.5 1878.5 1878.5 1878.5 1878.5" y="570.7 630.7 690.7 750.7 810.7">東海大福岡</text></g>

<g id="t-B7"><rect class="bx" x="1921.1" y="505" width="27" height="35"/><rect class="bx gr" x="1921.1" y="540" width="27" height="285"/><text class="no" x="1934.6" y="528">B7</text><text class="nm" x="1934.6 1934.6 1934.6 1934.6 1934.6 1934.6" y="570.7 618.7 666.7 714.7 762.7 810.7">第一薬科大付</text></g>
<g id="t-26"><rect class="bx" x="1962.3" y="505" width="27" height="35"/><rect class="bx" x="1962.3" y="540" width="27" height="285"/><text class="no" x="1975.8" y="528">26</text><text class="nm" x="1975.8 1975.8" y="570.7 810.7">春日</text></g>
<g id="t-27"><rect class="bx" x="2031.1" y="505" width="27" height="35"/><rect class="bx" x="2031.1" y="540" width="27" height="285"/><text class="no" x="2044.6" y="528">27</text><text class="nm" x="2044.6 2044.6" y="570.7 810.7">宗像</text></g>
<g id="t-28"><rect class="bx" x="2072.5" y="505" width="27" height="35"/><rect class="bx" x="2072.5" y="540" width="27" height="285"/><text class="no" x="2086" y="528">28</text><text class="nm" x="2086 2086 2086 2086" y="570.7 650.7 730.7 810.7">福岡女子</text></g>
<g id="t-29"><rect class="bx" x="2141.5" y="505" width="27" height="35"/><rect class="bx" x="2141.5" y="540" width="27" height="285"/><text class="no" x="2155" y="528">29</text><text class="nm" x="2155 2155" y="570.7 810.7">福岡</text></g>
<g id="t-C10"><rect class="bx" x="2182.5" y="505" width="27" height="35"/><rect class="bx" x="2182.5" y="540" width="27" height="285"/><text class="no" x="2196" y="528" textLength="25" lengthAdjust="spacingAndGlyphs">C10</text><text class="nm" x="2196 2196 2196" y="570.7 690.7 810.7">筑紫台</text></g>

<g id="t-30"><rect class="bx" x="2237.5" y="505" width="27" height="35"/><rect class="bx gr" x="2237.5" y="540" width="27" height="285"/><text class="no" x="2251" y="528">30</text><text class="nm" x="2251 2251" y="570.7 810.7">須恵</text></g>
<g id="t-31"><rect class="bx" x="2306.5" y="505" width="27" height="35"/><rect class="bx gr" x="2306.5" y="540" width="27" height="285"/><text class="no" x="2320" y="528">31</text><text class="nm" x="2320 2320" y="570.7 810.7">香椎</text></g>
<g id="t-32"><rect class="bx" x="2389.1" y="505" width="27" height="35"/><rect class="bx" x="2389.1" y="540" width="27" height="285"/><text class="no" x="2402.6" y="528">32</text><text class="nm" x="2402.6 2402.6 2402.6 2402.6" y="570.7 650.7 730.7 810.7">福岡舞鶴</text></g>
<g id="t-33"><rect class="bx" x="2458" y="505" width="27" height="35"/><rect class="bx" x="2458" y="540" width="27" height="285"/><text class="no" x="2471.5" y="528">33</text><text class="nm" x="2471.5 2471.5 2471.5 2471.5" y="570.7 650.7 730.7 810.7">筑紫中央</text></g>
<g id="t-A2"><rect class="bx" x="2499" y="505" width="27" height="35"/><rect class="bx" x="2499" y="540" width="27" height="285"/><text class="no" x="2512.5" y="528">A2</text><text class="nm" x="2512.5 2512.5 2512.5 2512.5" y="570.7 650.7 730.7 810.7">福岡魁誠</text></g>
</g>
<g id="footers">
<text class="dt" x="166.3" y="852">１２月２日（土）ｃ・ｄコート</text><text class="dt" x="166.3" y="885">宇美商業高校会場</text>
<text class="dt" x="482.9" y="852">１２月２日（土）ｅ・ｆコート</text><text class="dt" x="482.9" y="885">福岡講倫館高校会場</text>
<text class="dt" x="799.5" y="852">１２月２日（土）ｃ・ｄコート</text><text class="dt" x="799.5" y="885">宇美商業高校会場</text>
<text class="dt" x="1116.1" y="852">１２月２日（土）ｇ・ｈコート</text><text class="dt" x="1116.1" y="885">西南学院高校会場</text>
<text class="dt" x="1432.7" y="852">１２月２日（土）ｅ・ｆコート</text><text class="dt" x="1432.7" y="885">福岡講倫館高校会場</text>
<text class="dt" x="1749.3" y="852">１２月２日（土）ｇ・ｈコート</text><text class="dt" x="1749.3" y="885">西南学院高校会場</text>
<text class="dt" x="2065.9" y="852">１２月２日（土）ａ・ｂコート</text><text class="dt" x="2065.9" y="885">福岡魁誠高校会場</text>
<text class="dt" x="2382.5" y="852">１２月２日（土）ａ・ｂコート</text><text class="dt" x="2382.5" y="885">福岡魁誠高校会場</text>
</g>
</svg>
